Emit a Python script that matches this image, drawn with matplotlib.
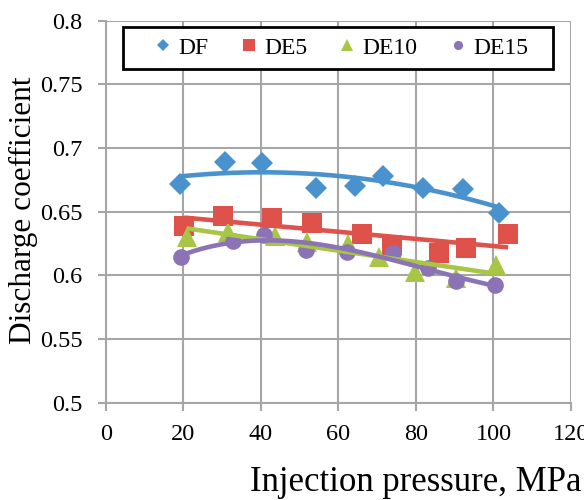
import numpy as np
import matplotlib
matplotlib.use('Agg')
import matplotlib.pyplot as plt
from matplotlib.patches import Rectangle

# values
df_x = [19.1, 30.7, 40.3, 54.1, 64.3, 71.4, 81.9, 92.2, 101.4]
df_y = [0.6715, 0.689, 0.688, 0.669, 0.670, 0.678, 0.669, 0.668, 0.649]

de5_x = [20.2, 30.1, 42.9, 53.1, 66.0, 73.7, 86.0, 92.8, 103.8]
de5_y = [0.639, 0.647, 0.645, 0.641, 0.6325, 0.624, 0.6173, 0.6218, 0.6325]

de10_x = [20.8, 31.4, 43.6, 51.8, 62.5, 70.5, 79.8, 90.4, 100.6]
de10_y = [0.630, 0.634, 0.631, 0.6265, 0.625, 0.6147, 0.6029, 0.5977, 0.6078]

de15_x = [19.4, 32.8, 40.9, 51.6, 62.1, 74.1, 83.2, 90.2, 100.4]
de15_y = [0.6147, 0.627, 0.6315, 0.6198, 0.6186, 0.6173, 0.6055, 0.5958, 0.5925]

x_ticks = [0, 20, 40, 60, 80, 100, 120]
y_ticks = [0.5, 0.55, 0.6, 0.65, 0.7, 0.75, 0.8]
y_labels = ['0.5', '0.55', '0.6', '0.65', '0.7', '0.75', '0.8']

# name, x, y, colour, marker, size, trendline order
series = [
    ('DF', df_x, df_y, '#4A92CD', 'D', 11.5, 2),
    ('DE5', de5_x, de5_y, '#DE524B', 's', 15, 1),
    ('DE10', de10_x, de10_y, '#A9C545', '^', 15, 1),
    ('DE15', de15_x, de15_y, '#8B73B5', 'o', 12, 3),
]

plt.rcParams['font.family'] = ['Liberation Serif', 'DejaVu Serif']

fig = plt.figure(figsize=(5.84, 5.0), dpi=100)
ax = fig.add_axes([0.1815, 0.1946, 0.7962, 0.764])

grid_c = '#A6A6A6'
for yt in y_ticks:
    ax.axhline(yt, color=grid_c, lw=1.5, zorder=0)
for xt in x_ticks:
    ax.axvline(xt, color=grid_c, lw=1.5, zorder=0)

handles = []
for name, xs, ys, col, mk, ms, order in series:
    xs = np.array(xs)
    ys = np.array(ys)
    h, = ax.plot(xs, ys, linestyle='none', marker=mk, ms=ms, color=col,
                 markeredgewidth=0, label=name, zorder=3)
    handles.append(h)
    coef = np.polyfit(xs, ys, order)
    xf = np.linspace(xs.min(), xs.max(), 200)
    ax.plot(xf, np.polyval(coef, xf), color=col, lw=3.3, zorder=4,
            solid_capstyle='butt')

ax.set_xlim(0, 120)
ax.set_ylim(0.5, 0.8)
ax.set_xticks(x_ticks)
ax.set_yticks(y_ticks)
ax.set_yticklabels(y_labels)
ax.tick_params(labelsize=17.5, colors=grid_c, labelcolor='black', width=1.5,
               length=6, direction='out')
ax.tick_params(axis='y', pad=11)
ax.tick_params(axis='x', pad=9)
for s in ['top', 'right']:
    ax.spines[s].set_visible(False)
for s in ['left', 'bottom']:
    ax.spines[s].set_color(grid_c)
    ax.spines[s].set_linewidth(1.5)

ax.set_xlabel('Injection pressure, MPa', fontsize=25, va='center')
ax.xaxis.set_label_coords(0.667, -0.21)
ax.set_ylabel('Discharge coefficient', fontsize=22.5, va='center', ha='center')
ax.yaxis.set_label_coords(-0.178, 0.505)

# legend box, drawn separately for the wide side padding
box = Rectangle((0.2106, 0.862), 0.7363, 0.084, transform=fig.transFigure,
                facecolor='white', edgecolor='black', lw=2, zorder=5)
fig.patches.append(box)

leg = fig.legend(handles=handles, loc='center', bbox_to_anchor=(0.586, 0.904),
                 ncol=4, fontsize=17, frameon=False, markerscale=0.55,
                 handlelength=0.6, handletextpad=0.35, columnspacing=1.4,
                 borderpad=0.2, numpoints=1)
leg.set_zorder(6)

fig.savefig('out.png', dpi=100)
